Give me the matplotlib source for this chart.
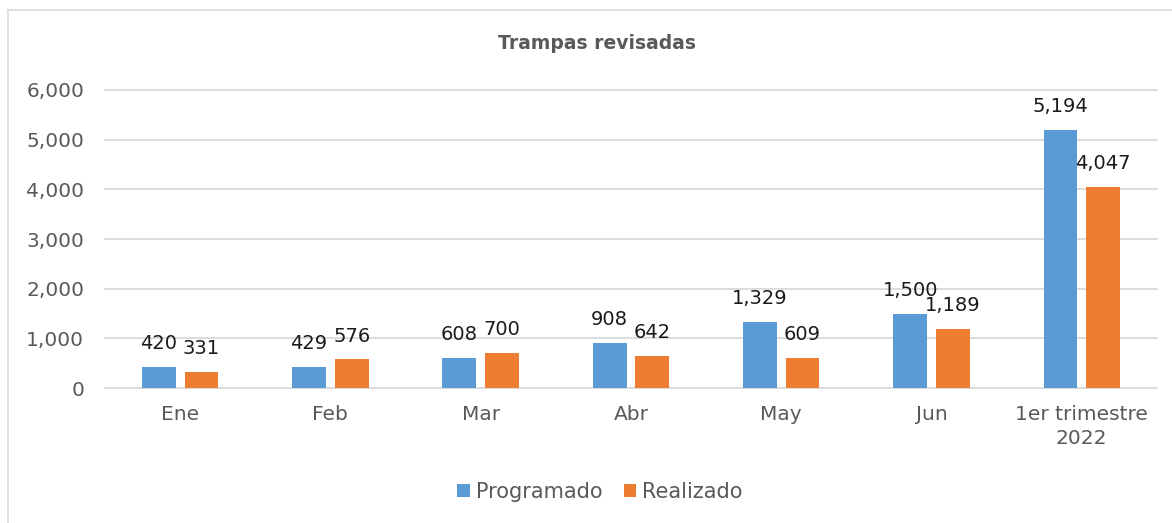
import numpy as np
import matplotlib.pyplot as plt
from matplotlib.lines import Line2D
from matplotlib.ticker import FuncFormatter

plt.rcParams['font.family'] = ['DejaVu Sans']

categorias = ['Ene', 'Feb', 'Mar', 'Abr', 'May', 'Jun', '1er trimestre\n2022']
programado = [420, 429, 608, 908, 1329, 1500, 5194]
realizado = [331, 576, 700, 642, 609, 1189, 4047]

azul = '#5B9BD5'
naranja = '#ED7D31'
gris = '#595959'

fig = plt.figure(figsize=(11.72, 5.23), dpi=100)
ax = fig.add_axes([0.0896, 0.258, 0.8975, 0.570])

x = np.arange(len(categorias))
w = 0.225
off = 0.142
b1 = ax.bar(x - off, programado, w, color=azul, label='Programado', zorder=3)
b2 = ax.bar(x + off, realizado, w, color=naranja, label='Realizado', zorder=3)

for bars, vals in ((b1, programado), (b2, realizado)):
    for b, v in zip(bars, vals):
        ax.annotate(f'{v:,}', (b.get_x() + b.get_width() / 2, v),
                    xytext=(0, 10), textcoords='offset points',
                    ha='center', va='bottom', fontsize=14, color='#1a1a1a')

ax.set_xlim(-0.5, len(categorias) - 0.5)
ax.set_ylim(0, 6000)
ax.set_yticks(range(0, 6001, 1000))
ax.yaxis.set_major_formatter(FuncFormatter(lambda v, p: f'{int(v):,}'))
ax.set_xticks(x)
ax.set_xticklabels(categorias, linespacing=1.35)
ax.tick_params(axis='y', length=0, pad=15, labelsize=14.5, labelcolor=gris)
ax.tick_params(axis='x', length=0, pad=12, labelsize=14.5, labelcolor=gris)
ax.grid(axis='y', color='#D9D9D9', linewidth=1.3, zorder=0)
for gl in ax.get_ygridlines():
    gl.set_clip_on(False)
for s in ax.spines.values():
    s.set_visible(False)

fig.text(0.509, 0.916, 'Trampas revisadas', ha='center', va='center',
         fontsize=13.5, fontweight='bold', color=gris)

fig.legend(handles=[b1, b2], loc='center', bbox_to_anchor=(0.512, 0.059),
           ncol=2, frameon=False, fontsize=15, labelcolor=gris,
           handlelength=0.6, handleheight=0.6, handletextpad=0.3,
           columnspacing=1.0)

# borde del grafico
fig.add_artist(Line2D([8 / 1172, 8 / 1172], [0, 1 - 10 / 523], color='#D9D9D9', lw=1.2))
fig.add_artist(Line2D([8 / 1172, 1], [1 - 10 / 523, 1 - 10 / 523], color='#D9D9D9', lw=1.2))

fig.savefig('out.png', dpi=100)
